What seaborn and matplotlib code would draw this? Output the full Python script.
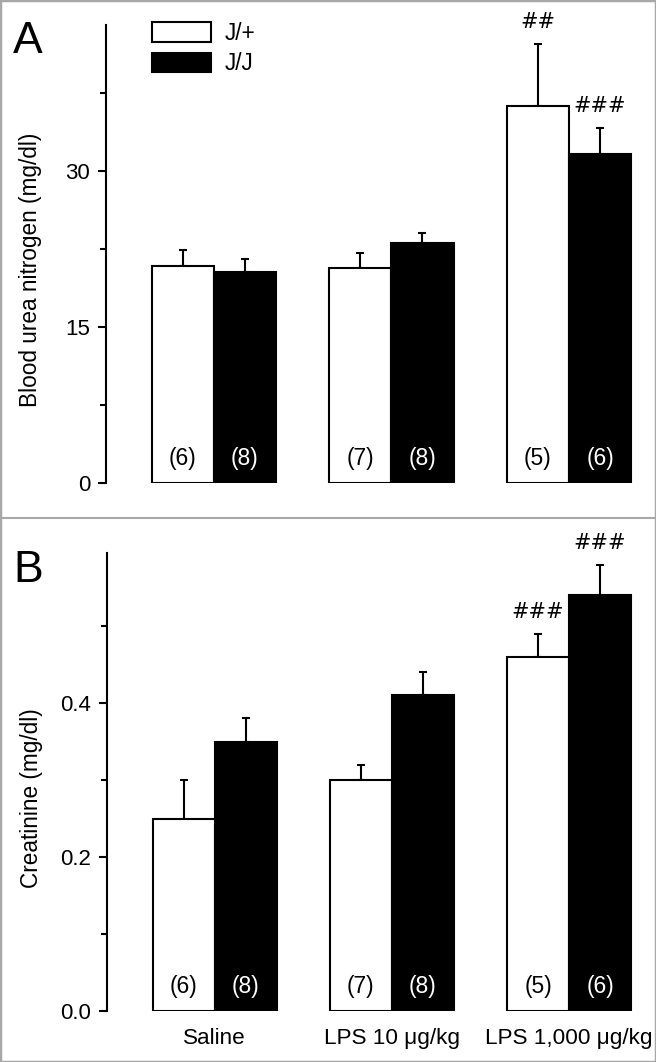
import numpy as np
import pandas as pd
import matplotlib
matplotlib.use("Agg")
import matplotlib.pyplot as plt
import seaborn as sns
from matplotlib.patches import Patch, Rectangle
from matplotlib.lines import Line2D

# ---------------- data ----------------
treatments = ["Saline", "LPS 10 μg/kg", "LPS 1,000 μg/kg"]
genotypes = ["J/+", "J/J"]

bun_jp = [20.8, 20.7, 36.2]
bun_jj = [20.3, 23.1, 31.6]
bun_err_jp = [1.6, 1.4, 6.0]
bun_err_jj = [1.2, 0.9, 2.5]

cre_jp = [0.25, 0.30, 0.46]
cre_jj = [0.35, 0.41, 0.54]
cre_err_jp = [0.05, 0.02, 0.03]
cre_err_jj = [0.03, 0.03, 0.04]

n_jp = [6, 7, 5]
n_jj = [8, 8, 6]

bun_marks_jp = ["", "", "##"]
bun_marks_jj = ["", "", "###"]
cre_marks_jp = ["", "", "###"]
cre_marks_jj = ["", "", "###"]

bun_ticks = [0, 15, 30]
bun_minor = [7.5, 22.5, 37.5]
cre_ticks = [0.0, 0.2, 0.4]
cre_minor = [0.1, 0.3, 0.5]
cre_ticklabels = ["0.0", "0.2", "0.4"]

# ---------------- style ----------------
sns.set_style("ticks")
plt.rcParams["font.family"] = ["Liberation Sans", "DejaVu Sans"]
plt.rcParams.update({
    "text.color": "black",
    "axes.labelcolor": "black",
    "axes.edgecolor": "black",
    "xtick.color": "black",
    "ytick.color": "black",
})

W, H = 656, 1062
fig = plt.figure(figsize=(W / 100, H / 100), dpi=100)

axA = fig.add_axes([106 / W, 1 - 483 / H, (640 - 106) / W, (483 - 25) / H])
axB = fig.add_axes([107 / W, 1 - 1011 / H, (640 - 107) / W, (1011 - 553) / H])

palette = {"J/+": "white", "J/J": "black"}


def panel(ax, jp, jj, ejp, ejj, mjp, mjj, ylim, ticks, minor, ylabel, show_x, ticklabels=None):
    df = pd.DataFrame({
        "treatment": treatments * 2,
        "genotype": [genotypes[0]] * 3 + [genotypes[1]] * 3,
        "value": list(jp) + list(jj),
    })
    sns.barplot(data=df, x="treatment", y="value", hue="genotype",
                order=treatments, hue_order=genotypes, palette=palette,
                saturation=1, edgecolor="black", linewidth=1.5, width=0.7,
                errorbar=None, legend=False, ax=ax, zorder=3)
    bar_containers = list(ax.containers)
    errs = [ejp, ejj]
    ns = [n_jp, n_jj]
    marks = [mjp, mjj]
    tcol = ["black", "white"]
    for hi, cont in enumerate(bar_containers):
        for bi, bar in enumerate(cont):
            x = bar.get_x() + bar.get_width() / 2
            top = bar.get_height()
            e = errs[hi][bi]
            ax.errorbar([x], [top], yerr=[[0], [e]], fmt="none", ecolor="black",
                        elinewidth=1.5, capsize=2.6, capthick=1.5, zorder=2)
            ax.annotate(f"({ns[hi][bi]})", xy=(x, 0), xytext=(0, 25),
                        textcoords="offset pixels", ha="center", va="center",
                        color=tcol[hi], fontsize=16.5, zorder=5)
            if marks[hi][bi]:
                ax.annotate(marks[hi][bi], xy=(x, top + e), xytext=(0, 22),
                            textcoords="offset pixels", ha="center", va="center",
                            fontsize=15, family="DejaVu Sans", color="black", zorder=5)
    ax.set_xlim(-0.607, 2.4)
    ax.set_ylim(*ylim)
    ax.set_yticks(ticks)
    if ticklabels is not None:
        ax.set_yticklabels(ticklabels)
    ax.set_yticks(minor, minor=True)
    for s in ["top", "right", "bottom"]:
        ax.spines[s].set_visible(False)
    ax.spines["left"].set_linewidth(1.5)
    ax.spines["left"].set_color("black")
    ax.tick_params(axis="y", which="major", length=6, width=1.5, labelsize=16, pad=5.5,
                   color="black", labelcolor="black")
    ax.tick_params(axis="y", which="minor", length=4, width=1.5, color="black")
    ax.set_xlabel("")
    ax.set_ylabel(ylabel, fontsize=16.3, color="black")
    ax.yaxis.set_label_coords(-0.12, 0.465)
    if show_x:
        ax.tick_params(axis="x", length=0, labelsize=16.2, pad=12, labelcolor="black")
    else:
        ax.tick_params(axis="x", length=0, labelbottom=False)
    ax.set_facecolor("none")


panel(axA, bun_jp, bun_jj, bun_err_jp, bun_err_jj, bun_marks_jp, bun_marks_jj,
      (0, 44), bun_ticks, bun_minor, "Blood urea nitrogen (mg/dl)", False)
panel(axB, cre_jp, cre_jj, cre_err_jp, cre_err_jj, cre_marks_jp, cre_marks_jj,
      (0, 0.595), cre_ticks, cre_minor, "Creatinine (mg/dl)", True, cre_ticklabels)

# legend
handles = [Patch(facecolor="white", edgecolor="black", linewidth=1.5),
           Patch(facecolor="black", edgecolor="black", linewidth=1.5)]
leg = axA.legend(handles, genotypes, loc="upper left",
                 bbox_to_anchor=(152 / W, 1 - 22 / H), bbox_transform=fig.transFigure,
                 frameon=False, fontsize=16.3, handlelength=2.6, handleheight=0.95,
                 handletextpad=0.6, labelspacing=0.32, borderpad=0, borderaxespad=0)
for t in leg.get_texts():
    t.set_color("black")

# panel letters
fig.text(13 / W, 1 - 53 / H, "A", fontsize=32, va="baseline", ha="left", color="black")
fig.text(13 / W, 1 - 582 / H, "B", fontsize=32, va="baseline", ha="left", color="black")

# frame
fig.add_artist(Rectangle((0, 0), 1, 1, transform=fig.transFigure, fill=False,
                         edgecolor="#a8a8a8", linewidth=2.5))
fig.add_artist(Line2D([0, 1], [1 - 518 / H, 1 - 518 / H], transform=fig.transFigure,
                      color="#a8a8a8", linewidth=1.5))

fig.savefig("out.png", dpi=100)
